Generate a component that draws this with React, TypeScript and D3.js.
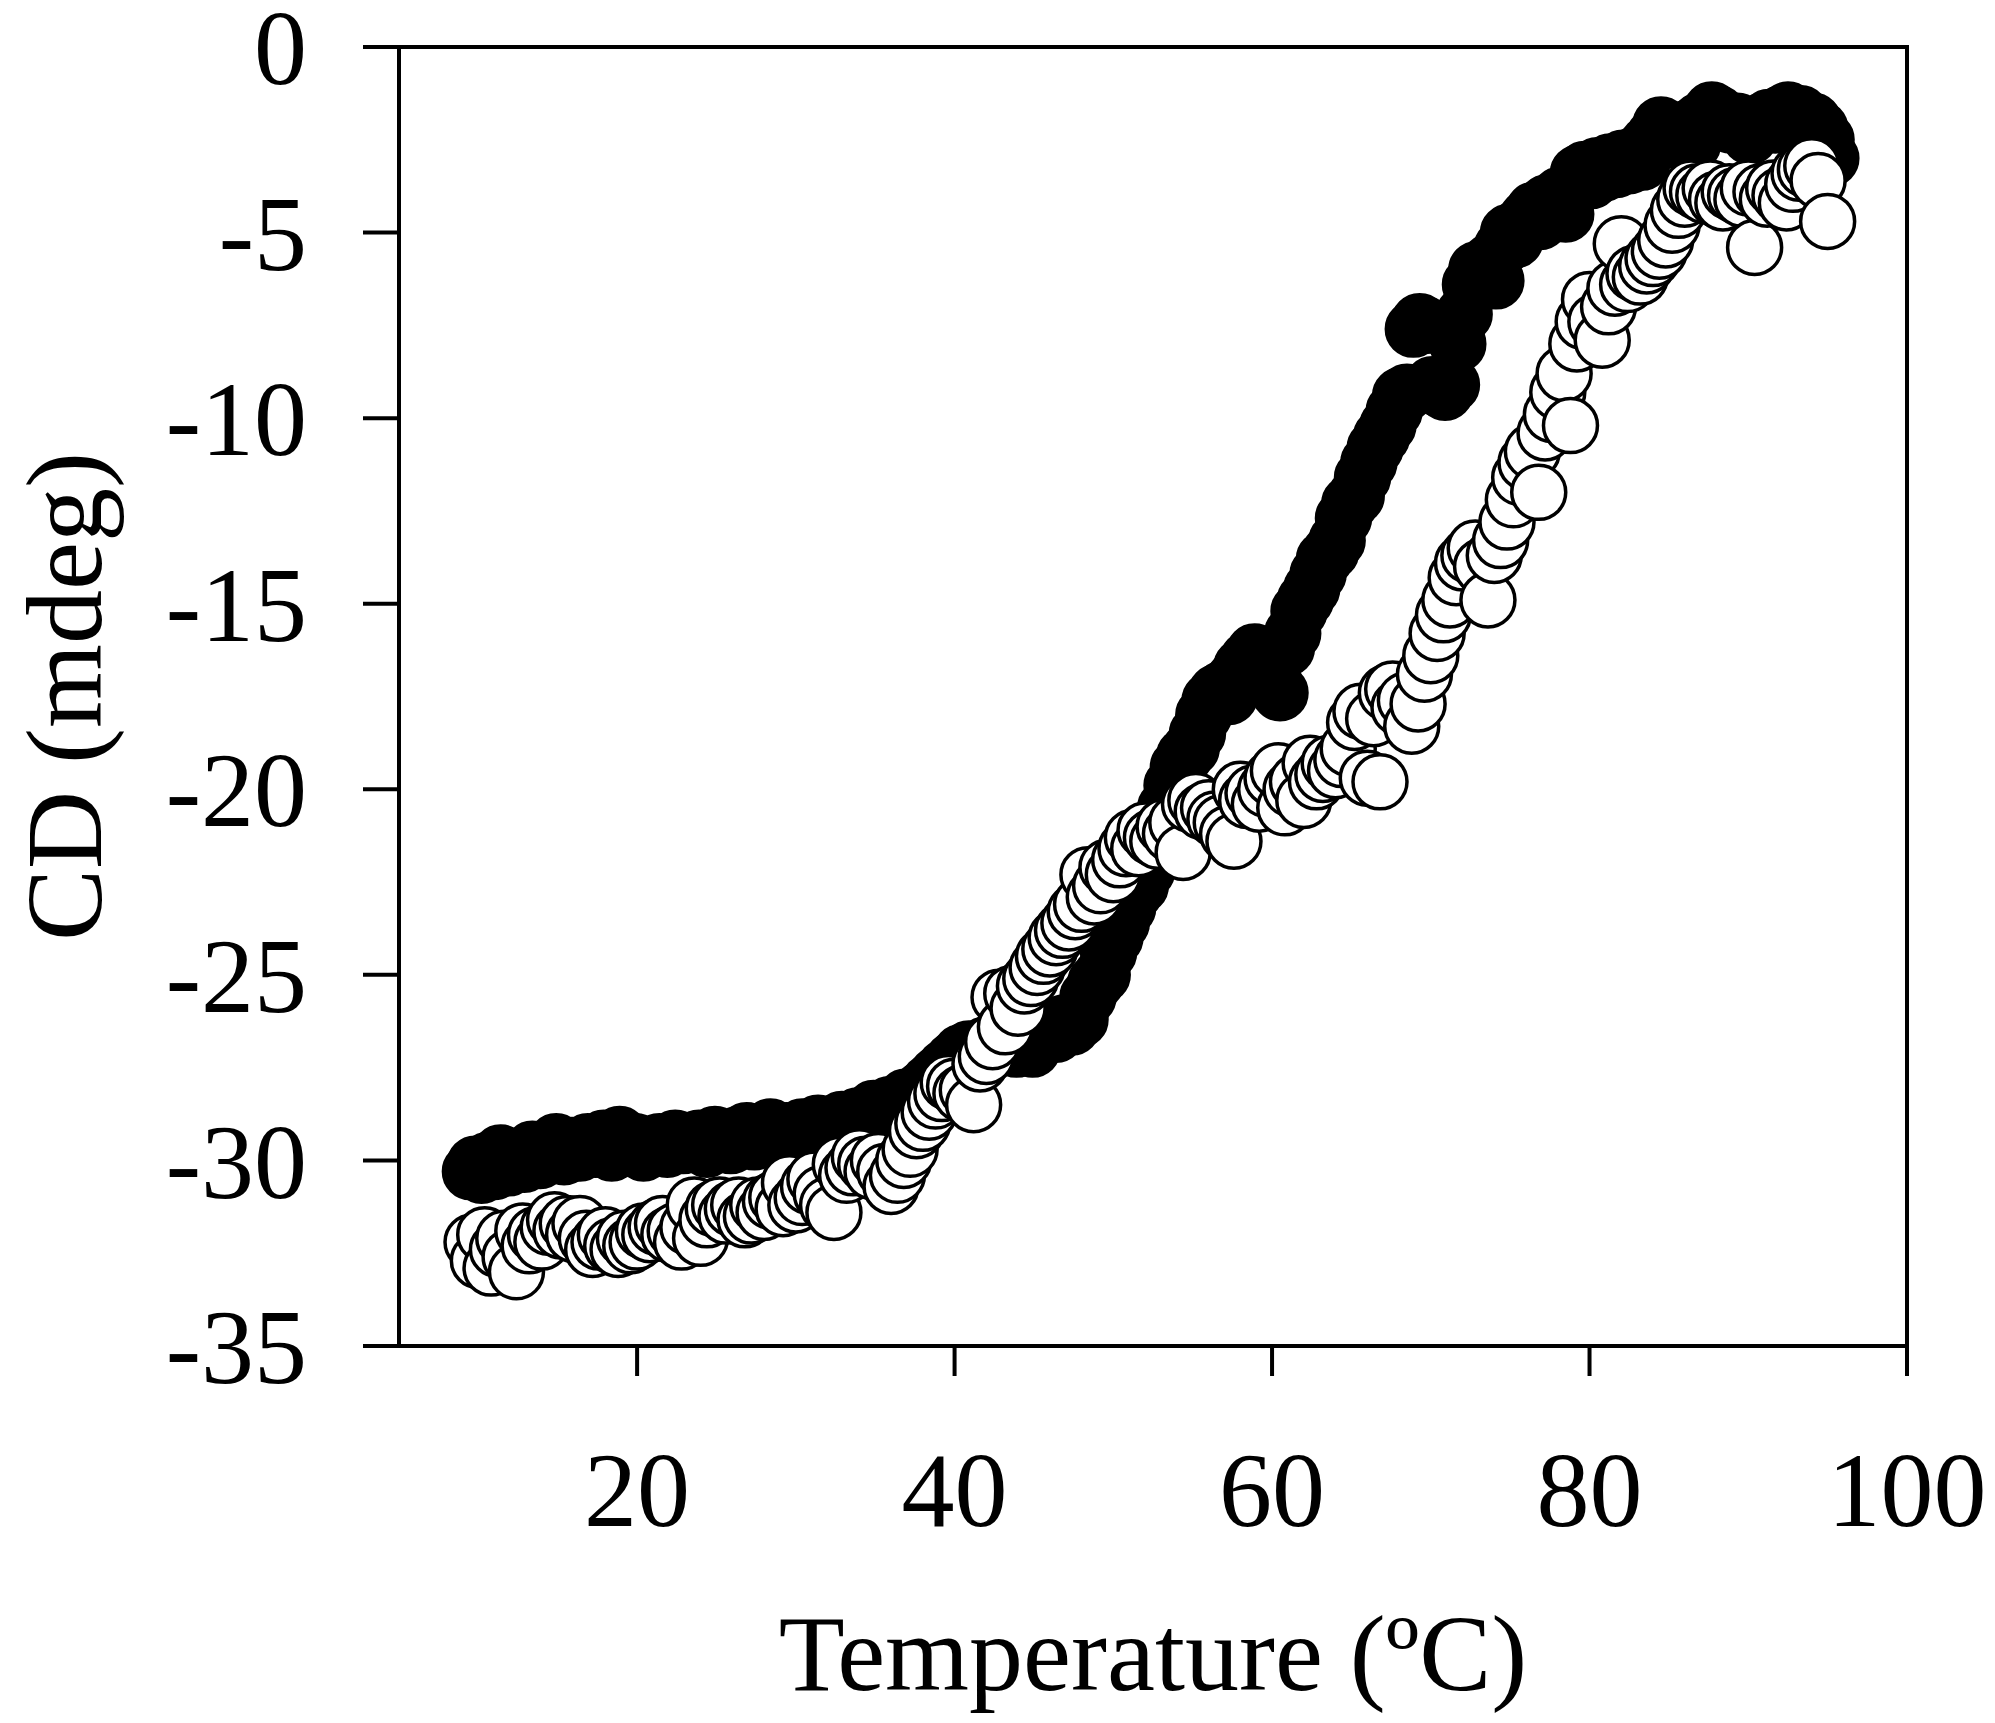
import React from "react";
import * as d3 from "d3";

// Filled circles series
const filledT = [
  9.5, 9.8, 10.2, 10.6, 11.0, 11.4, 11.9, 12.4, 12.9, 13.4, 13.9, 14.4, 14.9, 15.4, 15.9, 16.4, 16.9, 17.4, 17.9, 18.4,
  18.9, 19.4, 19.9, 20.4, 20.9, 21.4, 21.9, 22.4, 22.9, 23.4, 23.9, 24.4, 24.9, 25.4, 25.9, 26.4, 26.9, 27.4, 27.9, 28.4,
  28.9, 29.4, 29.9, 30.4, 30.9, 31.4, 31.9, 32.4, 32.9, 33.4, 33.9, 34.4, 34.9, 35.4, 35.9, 36.4, 36.9, 37.4, 37.9, 38.4,
  38.9, 39.4, 39.9, 40.4, 40.9, 41.4, 41.9, 42.4, 42.9, 43.4, 43.9, 44.4, 44.9, 45.4, 45.9, 46.4, 46.9, 47.4, 47.9, 48.4,
  48.9, 49.3, 49.7, 50.1, 50.5, 50.9, 51.3, 51.7, 52.1, 52.5, 52.9, 53.3, 53.7, 54.1, 54.5, 54.9, 55.3, 55.7, 56.1, 56.5,
  56.9, 57.3, 57.7, 58.1, 58.5, 58.9, 59.3, 59.7, 60.1, 60.5, 60.9, 61.3, 61.7, 62.1, 62.5, 62.9, 63.3, 63.7, 64.1, 64.5,
  64.9, 65.3, 65.7, 66.1, 66.5, 66.9, 67.3, 67.7, 68.1, 68.5, 68.9, 69.3, 69.7, 70.1, 70.5, 70.9, 71.3, 71.7, 72.1, 72.5,
  72.9, 73.3, 73.7, 74.1, 74.5, 74.9, 75.3, 75.7, 76.1, 76.5, 76.9, 77.3, 77.7, 78.1, 78.5, 78.9, 79.3, 79.7, 80.1, 80.5,
  80.9, 81.3, 81.7, 82.1, 82.5, 82.9, 83.3, 83.7, 84.1, 84.5, 84.9, 85.3, 85.7, 86.1, 86.5, 86.9, 87.3, 87.7, 88.1, 88.5,
  88.9, 89.3, 89.7, 90.1, 90.5, 90.9, 91.3, 91.7, 92.1, 92.5, 92.9, 93.3, 93.7, 94.1, 94.5, 94.9, 95.2,
];
const filledCD = [
  -30.3, -30.1, -30.4, -30.0, -30.3, -29.8, -30.2, -29.9, -30.1, -29.7, -30.0, -29.8, -29.5, -29.9, -29.6, -29.8, -29.5, -29.7, -29.4, -29.8,
  -29.3, -29.6, -29.5, -29.8, -29.6, -29.5, -29.7, -29.4, -29.6, -29.5, -29.4, -29.7, -29.3, -29.5, -29.6, -29.3, -29.2, -29.5, -29.3, -29.1,
  -29.4, -29.2, -29.4, -29.1, -29.3, -29.0, -29.2, -29.0, -28.9, -29.1, -28.8, -28.9, -28.6, -28.8, -28.5, -28.6, -28.3, -28.4, -28.1, -27.9,
  -27.7, -27.5, -27.3, -27.1, -27.0, -27.1, -26.9, -27.0, -26.8, -26.9, -27.0, -26.8, -27.0, -26.7, -26.5, -26.6, -26.3, -26.4, -26.2, -25.6,
  -25.2, -25.0, -24.4, -24.0, -23.6, -23.2, -22.8, -22.6, -22.2, -21.6, -21.0, -20.5, -19.9, -19.4, -19.1, -18.9, -18.5, -18.0, -17.6, -17.4,
  -17.3, -17.5, -17.0, -16.7, -16.5, -16.3, -16.5, -16.8, -17.1, -17.4, -16.2, -15.8, -15.2, -14.9, -14.6, -14.2, -13.8, -13.6, -13.3, -12.7,
  -12.3, -12.1, -11.6, -11.2, -10.8, -10.5, -10.2, -9.8, -9.4, -9.3, -7.6, -7.4, -7.5, -9.1, -9.2, -9.3, -9.1, -8.0, -7.2, -6.4,
  -6.0, -6.2, -5.8, -6.3, -5.4, -5.0, -5.2, -4.8, -4.6, -4.4, -4.7, -4.2, -4.3, -4.0, -4.5, -3.8, -3.4, -3.3, -3.6, -3.2,
  -3.4, -3.1, -3.3, -3.0, -3.2, -2.9, -3.1, -2.6, -2.4, -2.1, -2.3, -2.5, -2.4, -2.2, -2.6, -2.0, -1.9, -1.7, -1.8, -2.0,
  -2.1, -2.0, -2.2, -2.4, -2.1, -2.0, -1.9, -2.1, -1.8, -1.7, -1.9, -1.8, -2.0, -2.0, -2.2, -2.5, -3.0,
];

// Open circles series
const openT = [
  9.6, 10.0, 10.4, 10.8, 11.2, 11.6, 12.0, 12.4, 12.8, 13.2, 13.6, 14.0, 14.4, 14.8, 15.2, 15.6, 16.0, 16.4, 16.8, 17.2,
  17.6, 18.0, 18.4, 18.8, 19.2, 19.6, 20.0, 20.4, 20.8, 21.2, 21.6, 22.0, 22.4, 22.8, 23.2, 23.6, 24.0, 24.4, 24.8, 25.2,
  25.6, 26.0, 26.4, 26.8, 27.2, 27.6, 28.0, 28.4, 28.8, 29.2, 29.6, 30.0, 30.4, 30.8, 31.2, 31.6, 32.0, 32.4, 32.8, 33.2,
  33.6, 34.0, 34.4, 34.8, 35.2, 35.6, 36.0, 36.4, 36.8, 37.2, 37.6, 38.0, 38.4, 38.8, 39.2, 39.6, 40.0, 40.4, 40.8, 41.2,
  41.6, 42.0, 42.4, 42.8, 43.2, 43.6, 44.0, 44.4, 44.8, 45.2, 45.6, 46.0, 46.4, 46.8, 47.2, 47.6, 48.0, 48.4, 48.8, 49.2,
  49.6, 50.0, 50.4, 50.8, 51.2, 51.6, 52.0, 52.4, 52.8, 53.2, 53.6, 54.0, 54.4, 54.8, 55.2, 55.6, 56.0, 56.4, 56.8, 57.2,
  57.6, 58.0, 58.4, 58.8, 59.2, 59.6, 60.0, 60.4, 60.8, 61.2, 61.6, 62.0, 62.4, 62.8, 63.2, 63.6, 64.0, 64.4, 64.8, 65.2,
  65.6, 66.0, 66.4, 66.8, 67.2, 67.6, 68.0, 68.4, 68.8, 69.2, 69.6, 70.0, 70.4, 70.8, 71.2, 71.6, 72.0, 72.4, 72.8, 73.2,
  73.6, 74.0, 74.4, 74.8, 75.2, 75.6, 76.0, 76.4, 76.8, 77.2, 77.6, 78.0, 78.4, 78.8, 79.2, 79.6, 80.0, 80.4, 80.8, 81.2,
  81.6, 82.0, 82.4, 82.8, 83.2, 83.6, 84.0, 84.4, 84.8, 85.2, 85.6, 86.0, 86.4, 86.8, 87.2, 87.6, 88.0, 88.4, 88.8, 89.2,
  89.6, 90.0, 90.4, 90.8, 91.2, 91.6, 92.0, 92.4, 92.8, 93.2, 93.6, 94.0, 94.4, 95.0,
];
const openCD = [
  -32.2, -32.7, -32.0, -32.9, -32.4, -32.1, -32.6, -33.0, -31.9, -32.3, -32.0, -32.2, -31.8, -31.6, -31.9, -31.7, -32.0, -31.7, -32.1, -32.4,
  -32.2, -32.0, -32.3, -32.4, -32.1, -32.3, -32.2, -31.9, -32.0, -31.8, -31.7, -32.0, -31.9, -32.2, -31.8, -31.2, -32.1, -31.6, -31.3, -31.2,
  -31.5, -31.3, -31.2, -31.6, -31.5, -31.2, -31.4, -31.1, -31.0, -31.3, -30.6, -31.2, -31.0, -30.7, -30.5, -30.9, -31.2, -31.4, -30.1, -30.4,
  -30.2, -29.9, -30.1, -30.3, -30.0, -30.3, -30.7, -30.4, -30.0, -29.7, -29.2, -29.0, -28.7, -28.4, -28.2, -27.9, -28.0, -28.2, -28.1, -28.5,
  -27.4, -27.2, -26.8, -25.6, -26.4, -25.5, -25.9, -25.3, -25.1, -24.8, -24.5, -24.3, -24.0, -23.8, -23.6, -23.3, -23.1, -22.3, -22.9, -22.6,
  -22.1, -22.3, -21.9, -21.6, -21.3, -21.6, -21.1, -21.3, -21.4, -21.0, -21.2, -20.9, -21.7, -20.4, -20.3, -20.6, -20.5, -20.8, -20.9, -21.2,
  -21.4, -20.0, -20.3, -20.1, -20.4, -20.0, -19.7, -19.5, -20.5, -20.0, -19.8, -20.3, -19.3, -19.8, -19.6, -19.3, -19.5, -19.2, -18.9, -18.2,
  -17.9, -19.7, -18.1, -19.8, -17.4, -17.3, -17.8, -17.6, -18.3, -17.7, -16.9, -16.4, -15.8, -15.3, -14.9, -14.3, -13.9, -13.7, -13.5, -14.0,
  -14.9, -13.7, -13.3, -12.8, -12.2, -11.6, -11.2, -10.9, -12.0, -10.4, -9.9, -9.3, -8.8, -10.2, -8.0, -7.4, -6.8, -7.4, -7.9, -7.0,
  -6.5, -5.3, -6.4, -6.1, -6.2, -5.9, -5.7, -5.5, -5.2, -4.8, -4.4, -4.1, -3.8, -3.9, -4.0, -3.8, -4.1, -4.2, -3.9, -4.0,
  -4.1, -3.8, -5.4, -3.9, -4.1, -3.8, -4.0, -4.2, -3.7, -3.4, -3.3, -3.2, -3.6, -4.7,
];

const yTicks = [0, -5, -10, -15, -20, -25, -30, -35];
const xTicks = [20, 40, 60, 80, 100];
const xDomain = [5, 100];
const yDomain = [-35, 0];
const xTitle = "Temperature (ºC)";
const yTitle = "CD (mdeg)";

const W = 1995;
const H = 1723;
const left = 399;
const right = 1907;
const top = 47;
const bottom = 1346;
const font = "'Liberation Serif', 'Times New Roman', serif";

export default function App() {
  const x = d3.scaleLinear().domain(xDomain).range([left, right]);
  const y = d3.scaleLinear().domain(yDomain).range([bottom, top]);
  const filled = filledT.map((t, i) => ({ t, v: filledCD[i] }));
  const open = openT.map((t, i) => ({ t, v: openCD[i] }));
  const r = 27;
  const sw = 3.5;
  const axisW = 4;

  return (
    <svg
      width={W}
      height={H}
      viewBox={`0 0 ${W} ${H}`}
      style={{ position: "absolute", left: 0, top: 0, background: "#fff" }}
    >
      <rect x={0} y={0} width={W} height={H} fill="#fff" />
      <g>
        {filled.map((d, i) => (
          <circle key={"f" + i} cx={x(d.t)} cy={y(d.v)} r={r} fill="#000" stroke="#000" strokeWidth={sw} />
        ))}
        {open.map((d, i) => (
          <circle key={"o" + i} cx={x(d.t)} cy={y(d.v)} r={r} fill="#fff" stroke="#000" strokeWidth={sw} />
        ))}
      </g>
      <rect
        x={x(xDomain[0])}
        y={y(yDomain[1])}
        width={x(xDomain[1]) - x(xDomain[0])}
        height={y(yDomain[0]) - y(yDomain[1])}
        fill="none"
        stroke="#000"
        strokeWidth={axisW}
      />
      {yTicks.map((v) => (
        <g key={"y" + v}>
          <line x1={x(xDomain[0]) - 36} x2={x(xDomain[0])} y1={y(v)} y2={y(v)} stroke="#000" strokeWidth={axisW} />
          <text
            x={307}
            y={y(v)}
            dy="0.35em"
            textAnchor="end"
            fontFamily={font}
            fontSize={106}
            fill="#000"
          >
            {String(v)}
          </text>
        </g>
      ))}
      {xTicks.map((v) => (
        <g key={"x" + v}>
          <line x1={x(v)} x2={x(v)} y1={y(yDomain[0])} y2={y(yDomain[0]) + 30} stroke="#000" strokeWidth={axisW} />
          <text x={x(v)} y={1526} textAnchor="middle" fontFamily={font} fontSize={106} fill="#000">
            {String(v)}
          </text>
        </g>
      ))}
      <text
        x={(left + right) / 2}
        y={1690}
        textAnchor="middle"
        fontFamily={font}
        fontSize={108}
        fill="#000"
      >
        {xTitle}
      </text>
      <text
        transform={`translate(101, ${(top + bottom) / 2}) rotate(-90)`}
        textAnchor="middle"
        fontFamily={font}
        fontSize={108}
        fill="#000"
      >
        {yTitle}
      </text>
    </svg>
  );
}
